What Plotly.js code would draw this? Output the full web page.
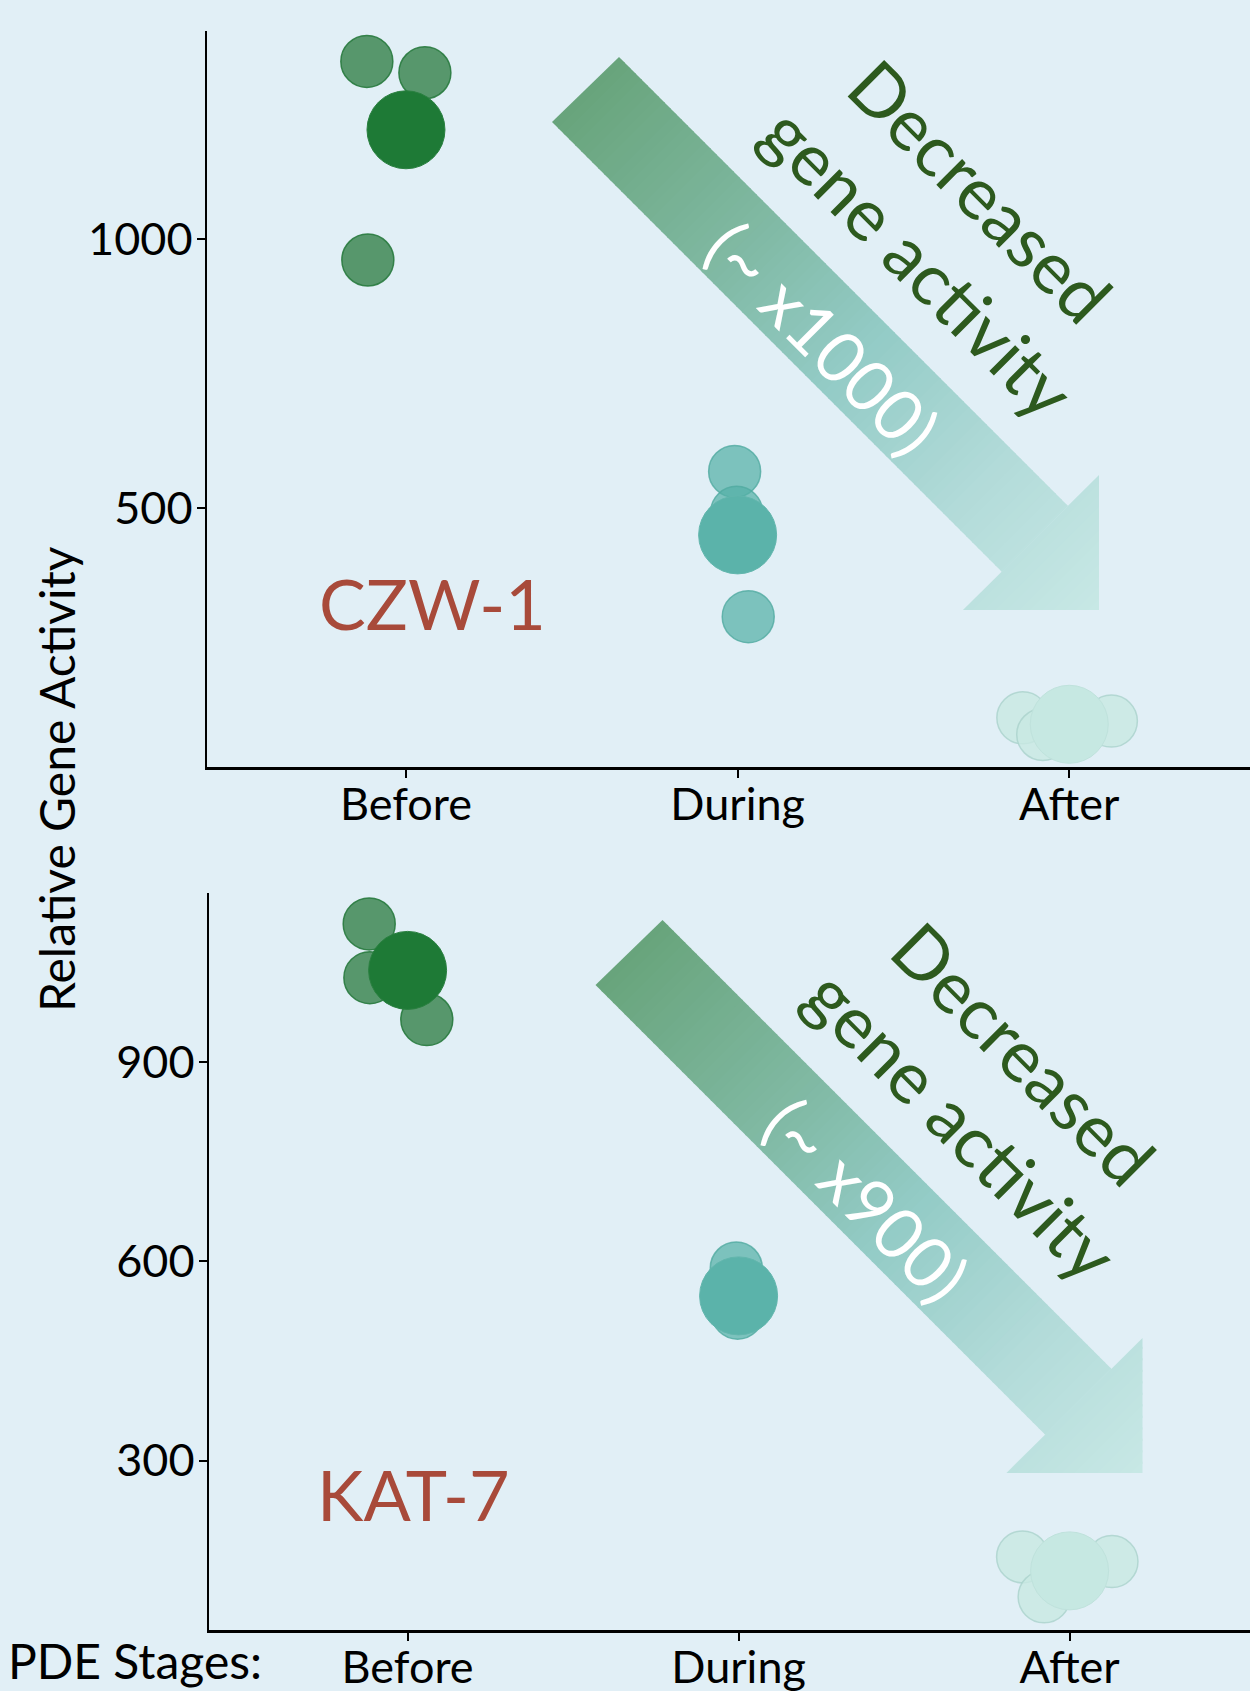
<!DOCTYPE html>
<html>
<head>
<meta charset="utf-8">
<script src="https://cdn.plot.ly/plotly-3.0.1.min.js"></script>
<style>
  html, body { margin: 0; padding: 0; background: #e1eff6; }
  #chart { width: 1250px; height: 1691px; }
</style>
</head>
<body>
<div id="chart"></div>
<script>
// ---------------- DATA ----------------
const stageLabels = ["Before", "During", "After"];
const stageTicks = [1, 2, 3];

// CZW-1 (top panel): individual replicates (x = stage position with jitter) and group means
const czwBeforeX = [0.882, 1.057, 0.885];
const czwBeforeY = [1330, 1309, 961];
const czwDuringX = [1.991, 1.997, 2.032];
const czwDuringY = [568, 492, 298];
const czwAfterX = [2.860, 3.127, 2.920];
const czwAfterY = [110, 104, 79];
const czwMeanX = [1, 2, 3];
const czwMeanY = [1203, 450, 98];

// KAT-7 (bottom panel)
const katBeforeX = [0.884, 0.886, 1.058];
const katBeforeY = [1108, 1027, 964];
const katDuringX = [1.993, 1.997, 1.997];
const katDuringY = [590, 533, 522];
const katAfterX = [2.858, 3.128, 2.923];
const katAfterY = [155, 148, 95];
const katMeanX = [1, 2, 3];
const katMeanY = [1038, 548, 134];

const czwTicks = [500, 1000];
const katTicks = [300, 600, 900];

const panelNames = ["CZW-1", "KAT-7"];
const foldLabels = ["(~ x1000)", "(~ x900)"];

// ---------------- STYLE ----------------
const W = 1250, H = 1691;
const BG = "#e1eff6";
const FONT = "Lato, 'Open Sans', sans-serif";
const indivColors = ["rgba(40,122,62,0.75)", "rgba(85,176,166,0.72)", "rgba(200,233,226,0.8)"];
const indivLines = ["rgba(40,122,62,0.9)", "rgba(80,170,160,0.8)", "rgba(170,210,204,0.8)"];
const meanColors = ["#1e7a36", "#5bb3aa", "#c6e8e2"];
const meanLines = ["#2a8040", "#62b6ad", "#bfe2dc"];

const px = x => x / W;
const py = y => 1 - y / H;

function indivTrace(x, y, i, xa, ya) {
  return { type: "scatter", mode: "markers", x: x, y: y, xaxis: xa, yaxis: ya,
    marker: { size: 52, color: indivColors[i], line: { color: indivLines[i], width: 1.5 } },
    hoverinfo: "skip", showlegend: false };
}
function meanTrace(x, y, xa, ya) {
  return { type: "scatter", mode: "markers", x: x, y: y, xaxis: xa, yaxis: ya,
    marker: { size: 78, color: meanColors, line: { color: meanLines, width: 1 } },
    hoverinfo: "skip", showlegend: false };
}

const traces = [
  indivTrace(czwBeforeX, czwBeforeY, 0, "x", "y"),
  indivTrace(czwDuringX, czwDuringY, 1, "x", "y"),
  indivTrace(czwAfterX, czwAfterY, 2, "x", "y"),
  meanTrace(czwMeanX, czwMeanY, "x", "y"),
  indivTrace(katBeforeX, katBeforeY, 0, "x2", "y2"),
  indivTrace(katDuringX, katDuringY, 1, "x2", "y2"),
  indivTrace(katAfterX, katAfterY, 2, "x2", "y2"),
  meanTrace(katMeanX, katMeanY, "x2", "y2")
];

// ---------------- ARROWS (gradient bands) ----------------
const gradStops = [
  [0.00, [104, 164, 123]],
  [0.30, [128, 185, 163]],
  [0.52, [147, 203, 198]],
  [0.78, [180, 220, 218]],
  [1.00, [200, 232, 229]]
];
function gradColor(t) {
  for (let i = 0; i < gradStops.length - 1; i++) {
    const [t0, c0] = gradStops[i], [t1, c1] = gradStops[i + 1];
    if (t <= t1) {
      const f = (t - t0) / (t1 - t0);
      return "rgb(" + c0.map((v, k) => Math.round(v + (c1[k] - v) * f)).join(",") + ")";
    }
  }
  return "rgb(" + gradStops[gradStops.length - 1][1].join(",") + ")";
}
function clipHalf(poly, f) {
  const out = [];
  for (let i = 0; i < poly.length; i++) {
    const P = poly[i], Q = poly[(i + 1) % poly.length];
    const fp = f(P), fq = f(Q);
    if (fp >= 0) out.push(P);
    if ((fp >= 0) !== (fq >= 0)) {
      const t = fp / (fp - fq);
      out.push([P[0] + t * (Q[0] - P[0]), P[1] + t * (Q[1] - P[1])]);
    }
  }
  return out;
}
function arrowShapes(dx, dy) {
  const T1 = [619 + dx, 57 + dy], T2 = [552 + dx, 122 + dy];
  const N1 = [1068 + dx, 506 + dy], N2 = [1002 + dx, 572 + dy];
  const B1 = [1099 + dx, 475 + dy], TIP = [1099 + dx, 610 + dy], B2 = [963 + dx, 610 + dy];
  const pieces = [[T1, N1, N2, T2], [B1, TIP, B2]];
  const s0 = T2[0] + T2[1], s1 = TIP[0] + TIP[1];
  const N = 90, shapes = [];
  for (let k = 0; k < N; k++) {
    const a = s0 + (s1 - s0) * k / N - (k === 0 ? 2 : 0);
    const b = s0 + (s1 - s0) * (k + 1) / N + (k === N - 1 ? 2 : 2.2);
    const col = gradColor((k + 0.5) / N);
    pieces.forEach(pc => {
      let p = clipHalf(pc, q => q[0] + q[1] - a);
      if (p.length >= 3) p = clipHalf(p, q => b - (q[0] + q[1]));
      if (p.length >= 3) {
        const path = p.map((q, i) => (i ? "L" : "M") + px(q[0]).toFixed(5) + "," + py(q[1]).toFixed(5)).join(" ") + " Z";
        shapes.push({ type: "path", xref: "paper", yref: "paper", path: path,
          fillcolor: col, line: { width: 0 }, layer: "below" });
      }
    });
  }
  return shapes;
}
const shapes = arrowShapes(0, 0).concat(arrowShapes(43.5, 863));

// ---------------- ANNOTATIONS ----------------
const GREEN_TXT = "#2d5a1e";
const RED_TXT = "#a84a3a";
function rot(text, x, y, size, color) {
  return { text: text, x: px(x), y: py(y), xref: "paper", yref: "paper",
    xanchor: "center", yanchor: "middle", textangle: 45, showarrow: false,
    font: { family: FONT, size: size, color: color } };
}
const annotations = [
  rot("Decreased", 981, 190, 72, GREEN_TXT),
  rot("gene activity", 919, 261, 72, GREEN_TXT),
  rot(foldLabels[0], 823, 337, 70, "#ffffff"),
  rot("Decreased", 1024.5, 1053, 72, GREEN_TXT),
  rot("gene activity", 962.5, 1124, 72, GREEN_TXT),
  rot(foldLabels[1], 867, 1199, 70, "#ffffff"),
  { text: panelNames[0], x: px(432), y: py(603), xref: "paper", yref: "paper",
    xanchor: "center", yanchor: "middle", showarrow: false,
    font: { family: FONT, size: 70, color: RED_TXT } },
  { text: panelNames[1], x: px(413), y: py(1494), xref: "paper", yref: "paper",
    xanchor: "center", yanchor: "middle", showarrow: false,
    font: { family: FONT, size: 70, color: RED_TXT } },
  { text: "Relative Gene Activity", x: px(56), y: py(779), xref: "paper", yref: "paper",
    xanchor: "center", yanchor: "middle", textangle: -90, showarrow: false,
    font: { family: FONT, size: 48, color: "#000000" } },
  { text: "PDE Stages:", x: px(6), y: py(1660), xref: "paper", yref: "paper",
    xanchor: "left", yanchor: "middle", showarrow: false,
    font: { family: FONT, size: 48, color: "#000000" } }
];

// ---------------- AXES ----------------
function xAxis(domain, anchor) {
  return { domain: domain, anchor: anchor, range: [0.4, 3.545], tickmode: "array",
    tickvals: stageTicks, ticktext: stageLabels, showgrid: false, zeroline: false,
    showline: true, linecolor: "#000000", linewidth: 2.5, ticks: "outside",
    ticklen: 8, tickwidth: 2, tickcolor: "#000000", fixedrange: true,
    ticklabelstandoff: -12,
    tickfont: { family: FONT, size: 45, color: "#000000" } };
}
function yAxis(domain, anchor, range, ticks) {
  return { domain: domain, anchor: anchor, range: range, tickmode: "array",
    tickvals: ticks, ticktext: ticks.map(String), showgrid: false, zeroline: false,
    showline: true, linecolor: "#000000", linewidth: 2.5, ticks: "outside",
    ticklen: 8, tickwidth: 2, tickcolor: "#000000", fixedrange: true,
    ticklabelstandoff: -5,
    tickfont: { family: FONT, size: 45, color: "#000000" } };
}

const layout = {
  width: W, height: H,
  margin: { l: 0, r: 0, t: 0, b: 0 },
  paper_bgcolor: BG, plot_bgcolor: "rgba(0,0,0,0)",
  showlegend: false,
  xaxis: xAxis([207 / W, 1], "y"),
  yaxis: yAxis([1 - 767 / H, 1 - 31 / H], "x", [18.6, 1386.6], czwTicks),
  xaxis2: xAxis([209 / W, 1], "y2"),
  yaxis2: yAxis([1 - 1630 / H, 1 - 893 / H], "x2", [45, 1154.5], katTicks),
  shapes: shapes,
  annotations: annotations
};

Plotly.newPlot("chart", traces, layout, { displayModeBar: false, staticPlot: true });
</script>
</body>
</html>
